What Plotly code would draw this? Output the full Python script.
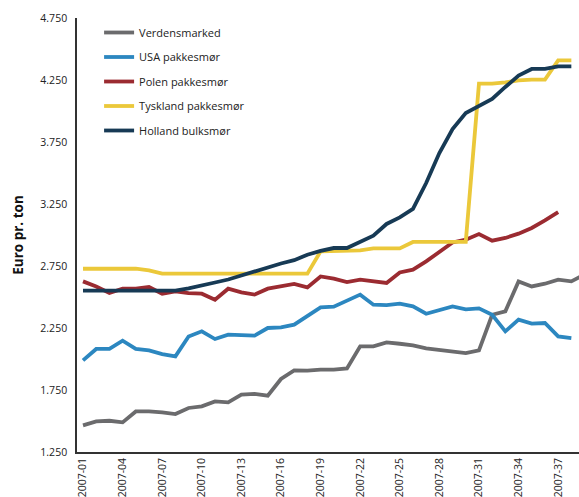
import plotly.graph_objects as go

weeks_all = list(range(1, 40))  # 2007-01 .. 2007-39

verdensmarked = [1465, 1497, 1502, 1489, 1577, 1577, 1569, 1556, 1605, 1618, 1658, 1650, 1712, 1718,
                 1704, 1839, 1908, 1906, 1914, 1914, 1924, 2102, 2102, 2134, 2123, 2110, 2085, 2073,
                 2056, 2048, 2069, 2357, 2384, 2626, 2585, 2607, 2640, 2626, 2680]
usa = [1989, 2081, 2081, 2148, 2081, 2069, 2040, 2021, 2182, 2223, 2161, 2196, 2193, 2188, 2250,
       2255, 2277, 2349, 2416, 2422, 2470, 2519, 2438, 2435, 2446, 2424, 2365, 2392, 2424, 2400,
       2408, 2357, 2223, 2317, 2285, 2290, 2182, 2169]
polen = [2626, 2585, 2532, 2567, 2567, 2581, 2527, 2545, 2532, 2527, 2478, 2567, 2537, 2519, 2567,
         2585, 2605, 2577, 2666, 2648, 2621, 2640, 2626, 2613, 2698, 2720, 2787, 2860, 2940, 2962,
         3008, 2954, 2976, 3011, 3057, 3118, 3185]
tyskland = [2728, 2728, 2728, 2728, 2728, 2715, 2688, 2688, 2688, 2688, 2688, 2688, 2688, 2688,
            2688, 2688, 2688, 2688, 2868, 2873, 2876, 2876, 2892, 2890, 2892, 2944, 2944, 2944,
            2944, 2944, 4220, 4220, 4231, 4247, 4253, 4253, 4408, 4408]
holland = [2551, 2551, 2551, 2551, 2551, 2551, 2551, 2551, 2569, 2590, 2617, 2641, 2674, 2706,
           2740, 2770, 2797, 2841, 2872, 2895, 2895, 2944, 2994, 3089, 3142, 3210, 3419, 3661,
           3855, 3984, 4037, 4097, 4194, 4285, 4339, 4339, 4360, 4360]

series_names = ["Verdensmarked", "USA pakkesmør", "Polen pakkesmør", "Tyskland pakkesmør", "Holland bulksmør"]
series_values = [verdensmarked, usa, polen, tyskland, holland]
series_colors = ["#6b6b6d", "#2c87c0", "#9b2b31", "#ebc83a", "#173a55"]

tick_weeks = [1, 4, 7, 10, 13, 16, 19, 22, 25, 28, 31, 34, 37]
tick_labels = ["2007-%02d" % w for w in tick_weeks]
y_ticks = [1250, 1750, 2250, 2750, 3250, 3750, 4250, 4750]

FONT = "Open Sans"

fig = go.Figure()
for name, vals, col in zip(series_names, series_values, series_colors):
    fig.add_trace(go.Scatter(
        x=weeks_all[:len(vals)], y=vals, name=name, mode="lines",
        line=dict(color=col, width=3.8), legendgroup=name,
    ))

fig.update_layout(
    width=579, height=497,
    margin=dict(l=77, r=0, t=18, b=45),
    paper_bgcolor="white", plot_bgcolor="white",
    separators=",.",
    font=dict(family=FONT, size=11, color="#222"),
    showlegend=True,
    legend=dict(x=0.044, y=1.0, xanchor="left", yanchor="top",
                bgcolor="rgba(0,0,0,0)", tracegroupgap=5.5,
                font=dict(family=FONT, size=11, color="#222")),
    xaxis=dict(range=[0.545, 38.58], tickmode="array", tickvals=tick_weeks, ticktext=tick_labels,
               tickangle=-90, showgrid=False, zeroline=False, showline=True,
               linecolor="#333", linewidth=1.5, ticks="", automargin=False,
               tickfont=dict(family=FONT, size=10.5, color="#222")),
    yaxis=dict(range=[1250, 4750], tickmode="array", tickvals=y_ticks, tickformat=",d",
               showgrid=False, zeroline=False, showline=True, linecolor="#333", linewidth=1.5,
               ticks="", ticklabelstandoff=6, automargin=False,
               tickfont=dict(family=FONT, size=10.5, color="#222"),
               title=dict(text="<b>Euro pr. ton</b>", font=dict(family=FONT, size=13.5, color="#111"),
                          standoff=14)),
)

fig.write_html("out.html")
